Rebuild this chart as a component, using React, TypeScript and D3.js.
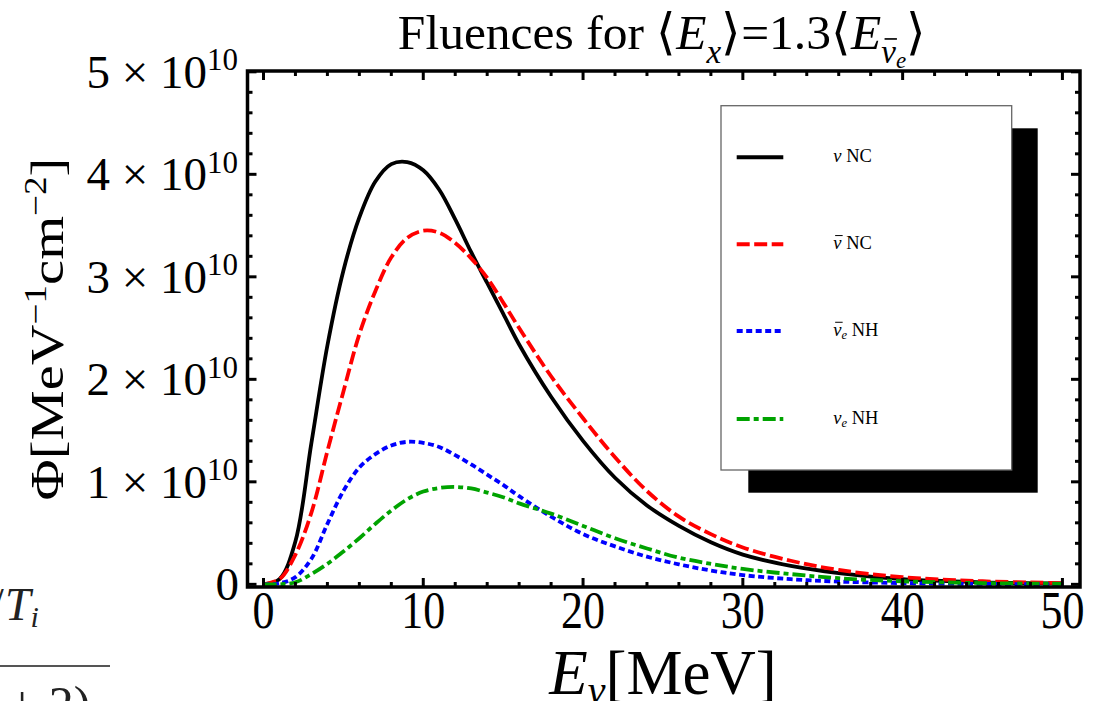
import React, { useLayoutEffect, useRef, useState } from "react";
import * as d3 from "d3";

const energy = [0, 1, 2, 3, 4, 5, 6, 7, 8, 9, 10, 11, 12, 13, 14, 15, 16, 18, 20, 22, 24, 26, 28, 30, 33, 36, 40, 45, 50];
// Fluences in units of 10^10 MeV^-1 cm^-2
const nuNC = [0, 0.05, 0.42, 1.38, 2.33, 3.06, 3.58, 3.93, 4.10, 4.12, 4.04, 3.85, 3.56, 3.24, 2.94, 2.64, 2.34, 1.83, 1.40, 1.04, 0.77, 0.57, 0.41, 0.29, 0.18, 0.11, 0.05, 0.02, 0.008];
const nubarNC = [0, 0.05, 0.29, 0.70, 1.30, 1.88, 2.44, 2.86, 3.19, 3.38, 3.45, 3.43, 3.33, 3.18, 2.99, 2.75, 2.50, 2.03, 1.62, 1.24, 0.91, 0.66, 0.49, 0.36, 0.23, 0.14, 0.07, 0.03, 0.012];
const nubarENH = [0, 0.01, 0.07, 0.25, 0.59, 0.91, 1.14, 1.27, 1.355, 1.39, 1.38, 1.34, 1.26, 1.17, 1.07, 0.97, 0.86, 0.66, 0.49, 0.37, 0.27, 0.195, 0.135, 0.09, 0.05, 0.027, 0.012, 0.004, 0.001];
const nuENH = [0, 0.0, 0.02, 0.10, 0.20, 0.32, 0.45, 0.59, 0.72, 0.83, 0.905, 0.94, 0.95, 0.935, 0.895, 0.85, 0.79, 0.69, 0.57, 0.45, 0.35, 0.26, 0.20, 0.15, 0.10, 0.06, 0.03, 0.012, 0.005];

const xTicks = [0, 10, 20, 30, 40, 50];
const yTicks = [0, 1, 2, 3, 4, 5];

const FONT = "'Liberation Serif', 'Times New Roman', serif";
const W = 1103;
const H = 701;
const F = { left: 247.5, right: 1080, top: 71, bottom: 587 };

const series = [
  { key: "nuNC", values: nuNC, color: "#000000", dash: "none" },
  { key: "nubarNC", values: nubarNC, color: "#ff0000", dash: "13,4.5" },
  { key: "nubarENH", values: nubarENH, color: "#0000ff", dash: "6,3.5" },
  { key: "nuENH", values: nuENH, color: "#00a300", dash: "13,4,5,4" },
];

type Bar = { x1: number; x2: number; y: number; w: number };

export default function App() {
  const svgRef = useRef<SVGSVGElement>(null);
  const [bars, setBars] = useState<Bar[]>([]);

  const x = d3.scaleLinear().domain([-1, 51.1]).range([F.left, F.right]);
  const y = d3.scaleLinear().domain([-0.026, 5.008]).range([F.bottom, F.top]);

  const line = d3
    .line<[number, number]>()
    .x((d) => x(d[0]))
    .y((d) => y(d[1]))
    .curve(d3.curveCatmullRom.alpha(0.5));

  useLayoutEffect(() => {
    const svg = svgRef.current;
    if (!svg) return;
    const out: Bar[] = [];
    svg.querySelectorAll("tspan.nubar").forEach((el) => {
      const fs = parseFloat(el.getAttribute("data-fs") || "20");
      const b = (el as SVGTSpanElement).getBBox();
      out.push({ x1: b.x + 0.1 * fs, x2: b.x + b.width + 0.02 * fs, y: b.y + 0.15 * fs, w: Math.max(1, 0.05 * fs) });
    });
    setBars(out);
  }, []);

  const xMinor = d3.range(0, 50.001, 2);
  const yMinor = d3.range(0, 5.001, 0.2);
  const isMajorX = (v: number) => Math.abs(v % 10) < 1e-6;
  const isMajorY = (v: number) => Math.abs(v - Math.round(v)) < 1e-6;
  const MAJ = 9;
  const MIN = 5;

  const legendY = [157.3, 244.3, 331, 419];

  return (
    <svg
      ref={svgRef}
      width={W}
      height={H}
      style={{ position: "absolute", left: 0, top: 0, display: "block", background: "#fff" }}
      fontFamily={FONT}
    >
      <defs>
        <clipPath id="plotclip">
          <rect x={F.left} y={F.top} width={F.right - F.left} height={F.bottom - F.top} />
        </clipPath>
      </defs>

      {/* cropped fragments of the surrounding paper text */}
      <text x={-9} y={620} fontSize={46} fill="#222">/</text>
      <text x={5} y={620} fontSize={46} fontStyle="italic" fill="#222">
        T<tspan fontSize={30} dy={7}>i</tspan>
      </text>
      <line x1={0} x2={110} y1={666} y2={666} stroke="#555" strokeWidth={2} />
      <text x={8} y={721} fontSize={50} fill="#222">+ 2)</text>

      {/* Title */}
      <text x={662} y={49} fontSize={49.5} textAnchor="middle">
        {"Fluences for \u27E8"}
        <tspan fontStyle="italic">E</tspan>
        <tspan fontStyle="italic" fontSize={33} dy={14}>x</tspan>
        <tspan dy={-14}>{"\u27E9=1.3\u27E8"}</tspan>
        <tspan fontStyle="italic">E</tspan>
        <tspan className="nubar" data-fs={33} fontStyle="italic" fontSize={33} dy={14}>{"\u03BD"}</tspan>
        <tspan fontStyle="italic" fontSize={23} dy={5}>e</tspan>
        <tspan dy={-19}>{"\u27E9"}</tspan>
      </text>

      {/* Curves */}
      <g clipPath="url(#plotclip)">
        {series.map((s) => (
          <path
            key={s.key}
            d={line(energy.map((e, i) => [e, s.values[i]] as [number, number])) || ""}
            fill="none"
            stroke={s.color}
            strokeWidth={3.8}
            strokeDasharray={s.dash}
          />
        ))}
      </g>

      {/* Ticks */}
      <g stroke="#000" strokeWidth={3}>
        {xMinor.map((v) => {
          const len = isMajorX(v) ? MAJ : MIN;
          return (
            <g key={"xt" + v}>
              <line x1={x(v)} x2={x(v)} y1={F.bottom} y2={F.bottom - len} />
              <line x1={x(v)} x2={x(v)} y1={F.top} y2={F.top + len} />
            </g>
          );
        })}
        {yMinor.map((v) => {
          const len = isMajorY(v) ? MAJ : MIN;
          return (
            <g key={"yt" + v.toFixed(1)}>
              <line x1={F.left} x2={F.left + len} y1={y(v)} y2={y(v)} />
              <line x1={F.right} x2={F.right - len} y1={y(v)} y2={y(v)} />
            </g>
          );
        })}
      </g>

      {/* Frame */}
      <rect x={F.left} y={F.top} width={F.right - F.left} height={F.bottom - F.top} fill="none" stroke="#000" strokeWidth={3.5} />

      {/* Y tick labels */}
      {yTicks.map((v) =>
        v === 0 ? (
          <text key={"yl" + v} x={239} y={y(v) + 16} fontSize={47} textAnchor="end">0</text>
        ) : (
          <text key={"yl" + v} x={238} y={y(v) + 16} fontSize={47} textAnchor="end">
            {`${v} \u00D7 10`}
            <tspan fontSize={31} dy={-17.5}>10</tspan>
          </text>
        )
      )}

      {/* X tick labels */}
      {xTicks.map((v) => (
        <text key={"xl" + v} transform={`translate(${x(v)},628) scale(1,1.18)`} fontSize={44} textAnchor="middle">
          {v}
        </text>
      ))}

      {/* Axis titles */}
      <text x={663} y={694} fontSize={63} textAnchor="middle">
        <tspan fontStyle="italic">E</tspan>
        <tspan fontStyle="italic" fontSize={40} dy={10}>{"\u03BD"}</tspan>
        <tspan dy={-10}>[MeV]</tspan>
      </text>
      <text transform="translate(63,329) rotate(-90) scale(1.2,1)" fontSize={47} textAnchor="middle">
        {"\u03A6[MeV"}
        <tspan fontSize={31} dy={-17}>{"\u22121"}</tspan>
        <tspan dy={17}>cm</tspan>
        <tspan fontSize={31} dy={-17}>{"\u22122"}</tspan>
        <tspan dy={17}>]</tspan>
      </text>

      {/* Legend */}
      <rect x={748.3} y={128.3} width={289.4} height={364.4} fill="#000" />
      <rect x={721} y={105.7} width={290.7} height={364.3} fill="#fff" stroke="#666" strokeWidth={1.3} />
      {series.map((s, i) => (
        <line
          key={"lg" + s.key}
          x1={736.7}
          x2={783.3}
          y1={legendY[i]}
          y2={legendY[i]}
          stroke={s.color}
          strokeWidth={4}
          strokeDasharray={s.dash}
        />
      ))}
      <text x={833.3} y={legendY[0] + 4.5} fontSize={18.5}>
        <tspan fontStyle="italic">{"\u03BD"}</tspan>
        {" NC"}
      </text>
      <text x={833.3} y={legendY[1] + 4.5} fontSize={18.5}>
        <tspan className="nubar" data-fs={18.5} fontStyle="italic">{"\u03BD"}</tspan>
        {" NC"}
      </text>
      <text x={833.3} y={legendY[2] + 4.5} fontSize={18.5}>
        <tspan className="nubar" data-fs={18.5} fontStyle="italic">{"\u03BD"}</tspan>
        <tspan fontStyle="italic" fontSize={12.5} dy={3}>e</tspan>
        <tspan dy={-3}>{" NH"}</tspan>
      </text>
      <text x={833.3} y={legendY[3] + 4.5} fontSize={18.5}>
        <tspan fontStyle="italic">{"\u03BD"}</tspan>
        <tspan fontStyle="italic" fontSize={12.5} dy={3}>e</tspan>
        <tspan dy={-3}>{" NH"}</tspan>
      </text>

      {/* overbars for anti-neutrino symbols */}
      {bars.map((b, i) => (
        <line key={"bar" + i} x1={b.x1} x2={b.x2} y1={b.y} y2={b.y} stroke="#000" strokeWidth={b.w} />
      ))}
    </svg>
  );
}
